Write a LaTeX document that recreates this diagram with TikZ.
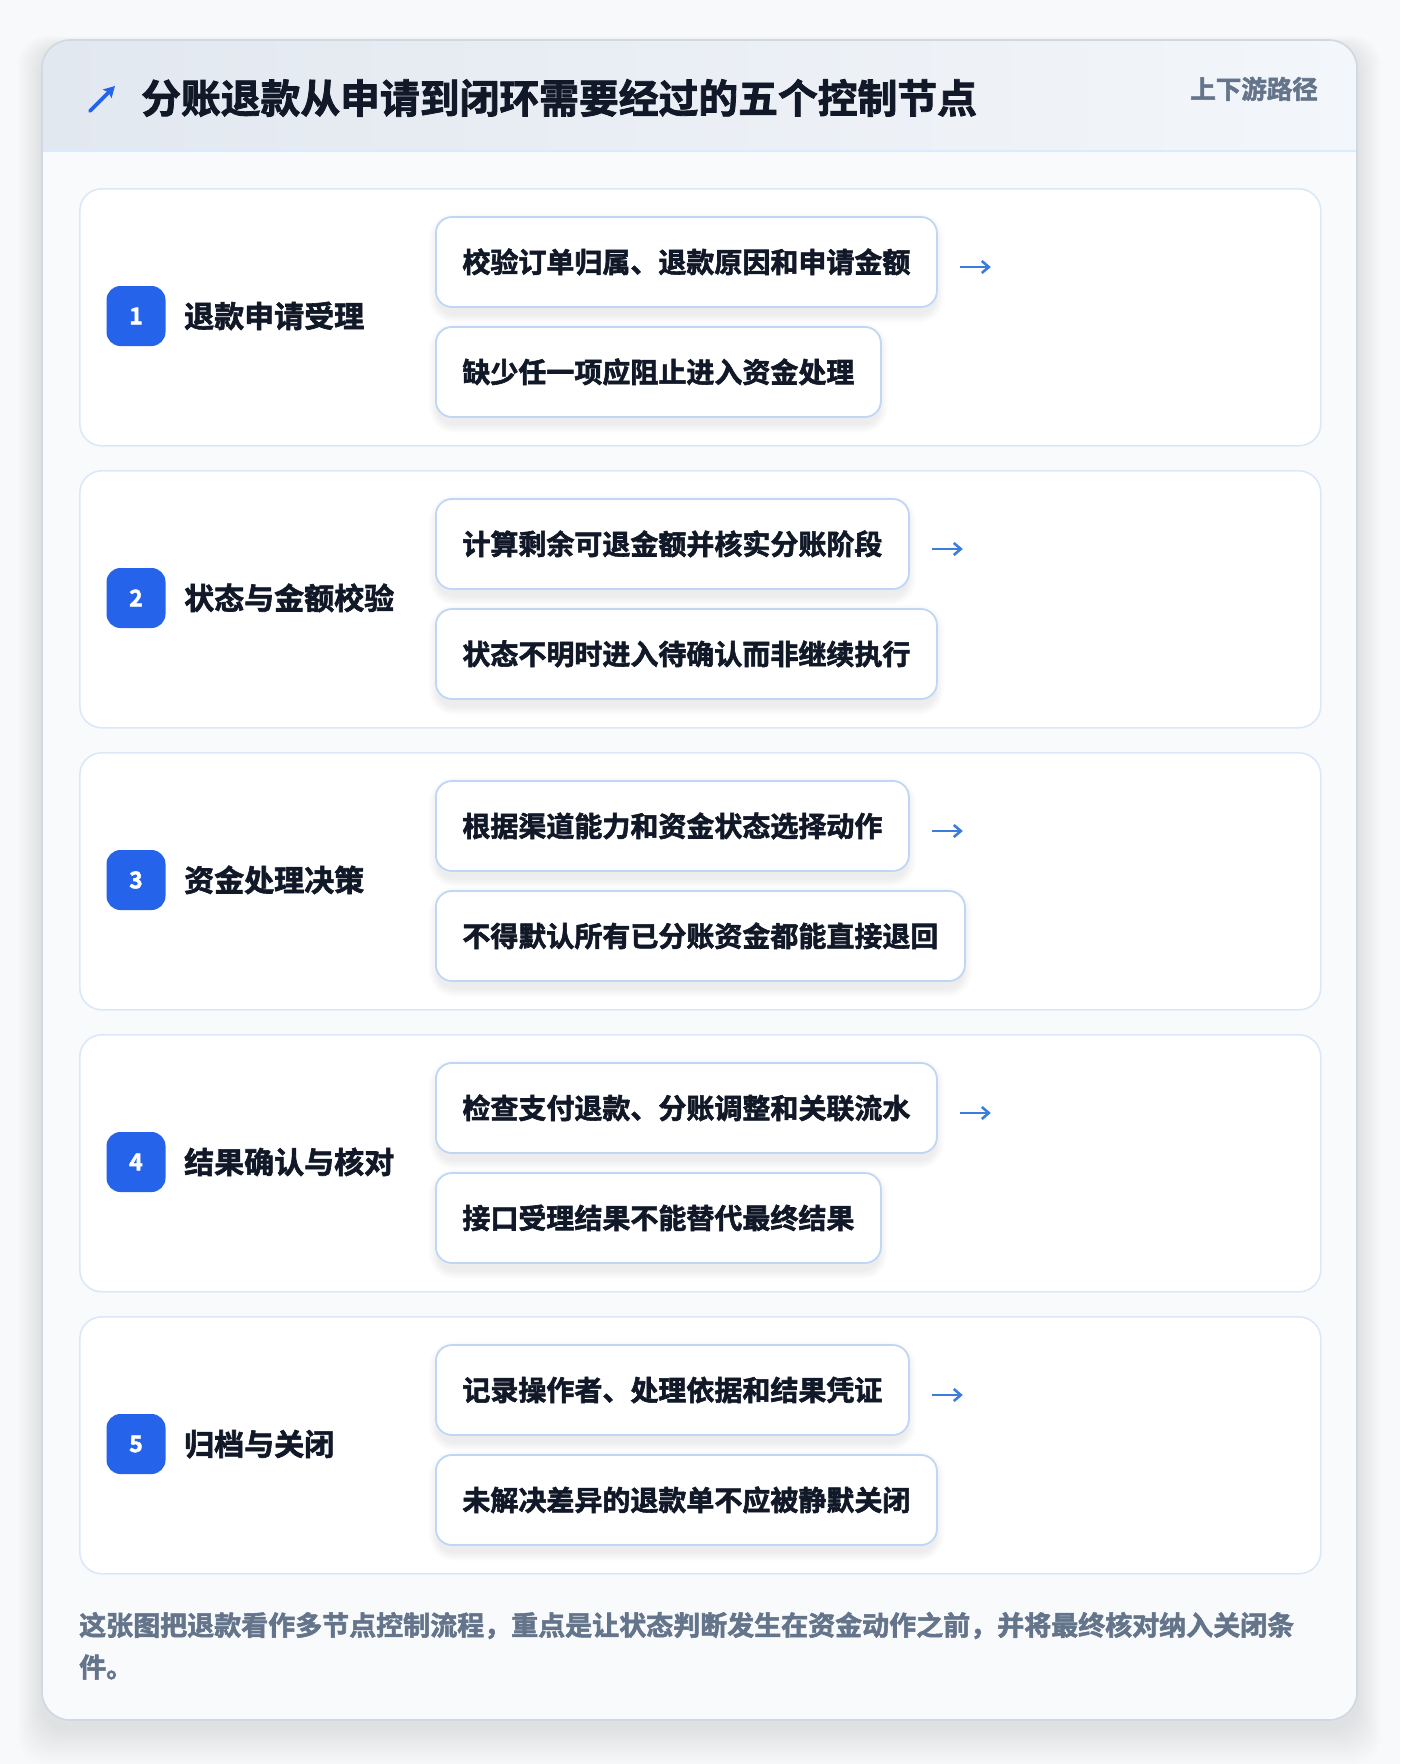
\documentclass[tikz,border=0pt]{standalone}
\usepackage{fontspec}
\setmainfont{Noto Sans CJK SC}[BoldFont={Noto Sans CJK SC Bold}, BoldFeatures={FakeBold=2.0}]
\usetikzlibrary{arrows.meta}
\definecolor{pagebg}{HTML}{F8F9FB}
\definecolor{cardbg}{HTML}{F8FAFC}
\definecolor{cardborder}{HTML}{CFD8E3}
\definecolor{headL}{HTML}{E2E8F0}
\definecolor{headR}{HTML}{F3F6FA}
\definecolor{headline}{HTML}{DBEAFE}
\definecolor{stepborder}{HTML}{DCE8F8}
\definecolor{subborder}{HTML}{BFD6F5}
\definecolor{badgeblue}{HTML}{2563EB}
\definecolor{ink}{HTML}{111827}
\definecolor{muted}{HTML}{64748B}
\definecolor{arrowblue}{HTML}{3B7DDD}
\pgfdeclarelayer{bg}\pgfdeclarelayer{steps}\pgfdeclarelayer{shad}
\pgfsetlayers{bg,steps,shad,main}
\tikzset{
  stepbox/.style={draw=stepborder, line width=1.6pt, fill=white, rounded corners=22pt,
    minimum width=1241pt, minimum height=257pt, anchor=north west, inner sep=0pt},
  subbox/.style={draw=subborder, line width=1.8pt, fill=white, rounded corners=16pt,
    minimum height=90pt, inner xsep=26.5pt, inner ysep=0pt, anchor=west,
    text height=24.6pt, text depth=3.4pt,
    font=\fontsize{28}{32}\selectfont\bfseries, text=ink},
  badge/.style={fill=badgeblue, rounded corners=14pt, minimum width=59pt, minimum height=60pt,
    inner sep=0pt, text=white, font=\fontsize{23}{24}\selectfont\bfseries},
  steplabel/.style={inner sep=0pt, text height=26.4pt, text depth=3.6pt, anchor=west, text=ink, font=\fontsize{30}{34}\selectfont\bfseries},
  foot/.style={inner sep=0pt, text height=23.8pt, text depth=3.2pt, anchor=west, text=muted, font=\fontsize{27}{34}\selectfont\bfseries},
  nextarrow/.style={draw=arrowblue, line width=2.8pt, -{Straight Barb[length=7pt,width=12pt,line width=2.6pt]}},
}
\begin{document}
\begin{tikzpicture}[x=1pt,y=-1pt]
\useasboundingbox (0,0) rectangle (1400,1764);
\begin{pgfonlayer}{bg}
\fill[pagebg] (0,0) rectangle (1400,1764);
% card shadow
\foreach \k in {1,...,12}{
  \fill[black, opacity=0.006, rounded corners=28pt] (42-2*\k,40-1*\k+8) rectangle (1357+2*\k,1720+3*\k+8);
}
% card
\fill[cardbg, rounded corners=28pt] (42,40) rectangle (1357,1720);
\begin{scope}
  \clip[rounded corners=28pt] (42,40) rectangle (1357,1720);
  \shade[left color=headL, right color=headR] (42,40) rectangle (1357,151);
\end{scope}
\draw[headline, line width=2pt] (43,151) -- (1356,151);
\draw[cardborder, line width=1.6pt, rounded corners=28pt] (42,40) rectangle (1357,1720);
\end{pgfonlayer}
% header
\coordinate (iconA) at (90,111);
\coordinate (iconB) at (115,86);
\draw[badgeblue, line width=3.6pt, line cap=round, -{Stealth[length=11pt,width=12pt,inset=2pt]}] (iconA) -- (iconB);
\node[inner sep=0pt, text height=35pt, text depth=4.8pt, anchor=west, text=ink, font=\fontsize{39.8}{44}\selectfont\bfseries] (title) at (141,98) {分账退款从申请到闭环需要经过的五个控制节点};
\node[inner sep=0pt, text height=22.4pt, text depth=3.1pt, anchor=east, text=muted, font=\fontsize{25.5}{28}\selectfont\bfseries] (tag) at (1318,89) {上下游路径};
% steps
\foreach \i/\lab/\ta/\tb in {
  1/退款申请受理/校验订单归属、退款原因和申请金额/缺少任一项应阻止进入资金处理,
  2/状态与金额校验/计算剩余可退金额并核实分账阶段/状态不明时进入待确认而非继续执行,
  3/资金处理决策/根据渠道能力和资金状态选择动作/不得默认所有已分账资金都能直接退回,
  4/结果确认与核对/检查支付退款、分账调整和关联流水/接口受理结果不能替代最终结果,
  5/归档与关闭/记录操作者、处理依据和结果凭证/未解决差异的退款单不应被静默关闭}{
  \pgfmathsetmacro\tp{188+(\i-1)*282}
  \begin{pgfonlayer}{steps}
  \node[stepbox] (step\i) at (79,\tp) {};
  \end{pgfonlayer}
  \node[badge] (badge\i) at (136,\tp+128) {\i};
  \node[steplabel] (label\i) at (184,\tp+128) {\lab};
  \node[subbox] (a\i) at (435,\tp+74) {\ta};
  \node[subbox] (b\i) at (435,\tp+184) {\tb};
  \begin{pgfonlayer}{shad}
  \foreach \n in {a\i,b\i}{
    \foreach \k in {1,...,9}{
      \fill[black, opacity=0.007, rounded corners=16pt+\k pt]
        ([xshift=-\k pt+3pt, yshift=-6pt-\k pt]\n.south west) rectangle ([xshift=\k pt-3pt, yshift=\k pt-6pt]\n.north east);
    }
  }
  \end{pgfonlayer}
  \coordinate (p\i) at ([xshift=22pt,yshift=-5pt]a\i.east);
  \coordinate (q\i) at ([xshift=53pt,yshift=-5pt]a\i.east);
  \draw[nextarrow] (p\i) -- (q\i);
}
% footer
\node[foot] (foot1) at (79,1625) {这张图把退款看作多节点控制流程，重点是让状态判断发生在资金动作之前，并将最终核对纳入关闭条};
\node[foot] (foot2) at (79,1667) {件。};
\end{tikzpicture}
\end{document}
